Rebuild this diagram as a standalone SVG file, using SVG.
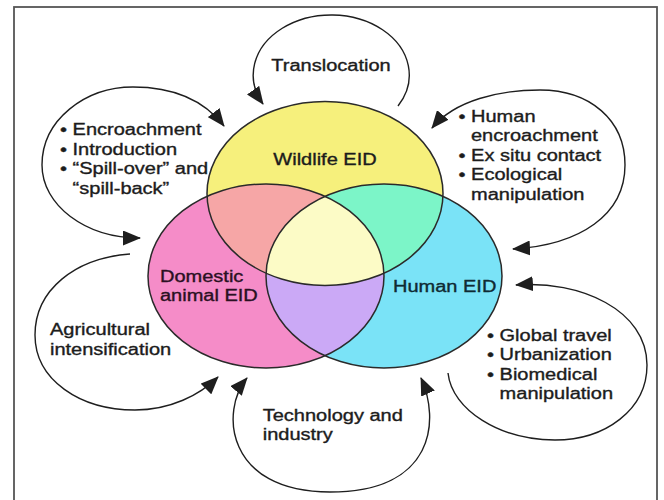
<svg xmlns="http://www.w3.org/2000/svg" width="664" height="500" viewBox="0 0 664 500">
  <style>
    text { font-family: "Liberation Sans", Arial, Helvetica, sans-serif; font-size: 16px; fill: #1c1c1c; stroke: #1c1c1c; stroke-width: 0.35; }
    .mid { text-anchor: middle; }
    .conn { fill: none; stroke: #1e1e1e; stroke-width: 1.4; }
    .outline { fill: none; stroke: #2a2a2a; stroke-width: 1.5; }
    .frame { fill: none; stroke: #555555; stroke-width: 1.8; }
  </style>
  <defs>
    <ellipse id="shapeWild" cx="325" cy="193.5" rx="118" ry="92"/>
    <ellipse id="shapeDom" cx="266" cy="276" rx="118" ry="92"/>
    <ellipse id="shapeHum" cx="384" cy="276" rx="118" ry="92"/>
    <clipPath id="clipDom"><use href="#shapeDom"/></clipPath>
    <clipPath id="clipHum"><use href="#shapeHum"/></clipPath>
    <marker id="arrow" viewBox="0 0 18 15" refX="17" refY="7.5" markerWidth="18" markerHeight="15"
            markerUnits="userSpaceOnUse" orient="auto-start-reverse">
      <path d="M0,0 L18,7.5 L0,15 z" fill="#1e1e1e"/>
    </marker>
  </defs>

  <rect x="0" y="0" width="664" height="500" fill="#ffffff"/>
  <rect class="frame" x="14" y="7" width="643" height="500"/>

  <!-- Venn fills: single sets, then pairwise and triple overlaps -->
  <g id="venn-fills">
    <use href="#shapeDom" fill="#f58cc8"/>
    <use href="#shapeHum" fill="#7ae3f7"/>
    <use href="#shapeWild" fill="#f6f07c"/>
    <use href="#shapeWild" fill="#f6a6a6" clip-path="url(#clipDom)"/>
    <use href="#shapeWild" fill="#7cf5c8" clip-path="url(#clipHum)"/>
    <use href="#shapeDom" fill="#cba9f6" clip-path="url(#clipHum)"/>
    <g clip-path="url(#clipDom)">
      <use href="#shapeWild" fill="#fcfbc6" clip-path="url(#clipHum)"/>
    </g>
  </g>

  <g id="wildlife-eid">
    <use href="#shapeWild" class="outline"/>
    <text class="mid" transform="scale(1.25 1)" x="260" y="165">Wildlife EID</text>
  </g>
  <g id="domestic-eid">
    <use href="#shapeDom" class="outline"/>
    <text transform="scale(1.25 1)" x="128" y="282.5" style="fill:#2a1022;stroke:#2a1022">Domestic</text>
    <text transform="scale(1.25 1)" x="128" y="301.5" style="fill:#2a1022;stroke:#2a1022">animal EID</text>
  </g>
  <g id="human-eid">
    <use href="#shapeHum" class="outline"/>
    <text transform="scale(1.25 1)" x="314.4" y="292" style="fill:#0f2a33;stroke:#0f2a33">Human EID</text>
  </g>

  <!-- Driver labels -->
  <g id="translocation">
    <text class="mid" transform="scale(1.25 1)" x="264.8" y="71">Translocation</text>
  </g>
  <g id="wildlife-domestic-drivers">
    <text transform="scale(1.25 1)" x="48" y="135.5">• Encroachment</text>
    <text transform="scale(1.25 1)" x="48" y="155">• Introduction</text>
    <text transform="scale(1.25 1)" x="48" y="174.5">• “Spill-over” and</text>
    <text transform="scale(1.25 1)" x="58.1" y="194">“spill-back”</text>
  </g>
  <g id="wildlife-human-drivers">
    <text transform="scale(1.25 1)" x="366.8" y="122">• Human</text>
    <text transform="scale(1.25 1)" x="376.8" y="141.5">encroachment</text>
    <text transform="scale(1.25 1)" x="366.8" y="161">• Ex situ contact</text>
    <text transform="scale(1.25 1)" x="366.8" y="180.5">• Ecological</text>
    <text transform="scale(1.25 1)" x="376.8" y="200">manipulation</text>
  </g>
  <g id="human-drivers">
    <text transform="scale(1.25 1)" x="389.6" y="341">• Global travel</text>
    <text transform="scale(1.25 1)" x="389.6" y="360.5">• Urbanization</text>
    <text transform="scale(1.25 1)" x="389.6" y="380">• Biomedical</text>
    <text transform="scale(1.25 1)" x="399.7" y="399">manipulation</text>
  </g>
  <g id="agriculture">
    <text transform="scale(1.25 1)" x="40" y="335.5">Agricultural</text>
    <text transform="scale(1.25 1)" x="40" y="355.5">intensification</text>
  </g>
  <g id="technology">
    <text transform="scale(1.25 1)" x="210.2" y="421">Technology and</text>
    <text transform="scale(1.25 1)" x="210.2" y="440">industry</text>
  </g>

  <!-- Looping connectors -->
  <g id="connectors">
    <path class="conn" marker-end="url(#arrow)" d="M398,106 A78,60 0 1 0 263,104"/>
    <path class="conn" marker-start="url(#arrow)" marker-end="url(#arrow)"
          d="M224,126 C200,95 165,87 133,87 C85,87 42,120 42,165 C42,205 85,238 140,238"/>
    <path class="conn" marker-start="url(#arrow)" marker-end="url(#arrow)"
          d="M432,128 C455,100 500,90 540,90 C590,90 625,120 625,165 C625,215 580,245 513,249"/>
    <path class="conn" marker-start="url(#arrow)"
          d="M516,285 C580,280 647,310 647,365 C647,410 605,440 555,440 C500,440 452,410 448,373"/>
    <path class="conn" marker-end="url(#arrow)"
          d="M130,254 C75,258 35,290 35,335 C35,380 80,410 135,410 C170,410 200,395 218,377"/>
    <path class="conn" marker-start="url(#arrow)" marker-end="url(#arrow)"
          d="M247,378 C220,410 225,492 330,492 C435,492 440,420 421,378"/>
  </g>
</svg>
